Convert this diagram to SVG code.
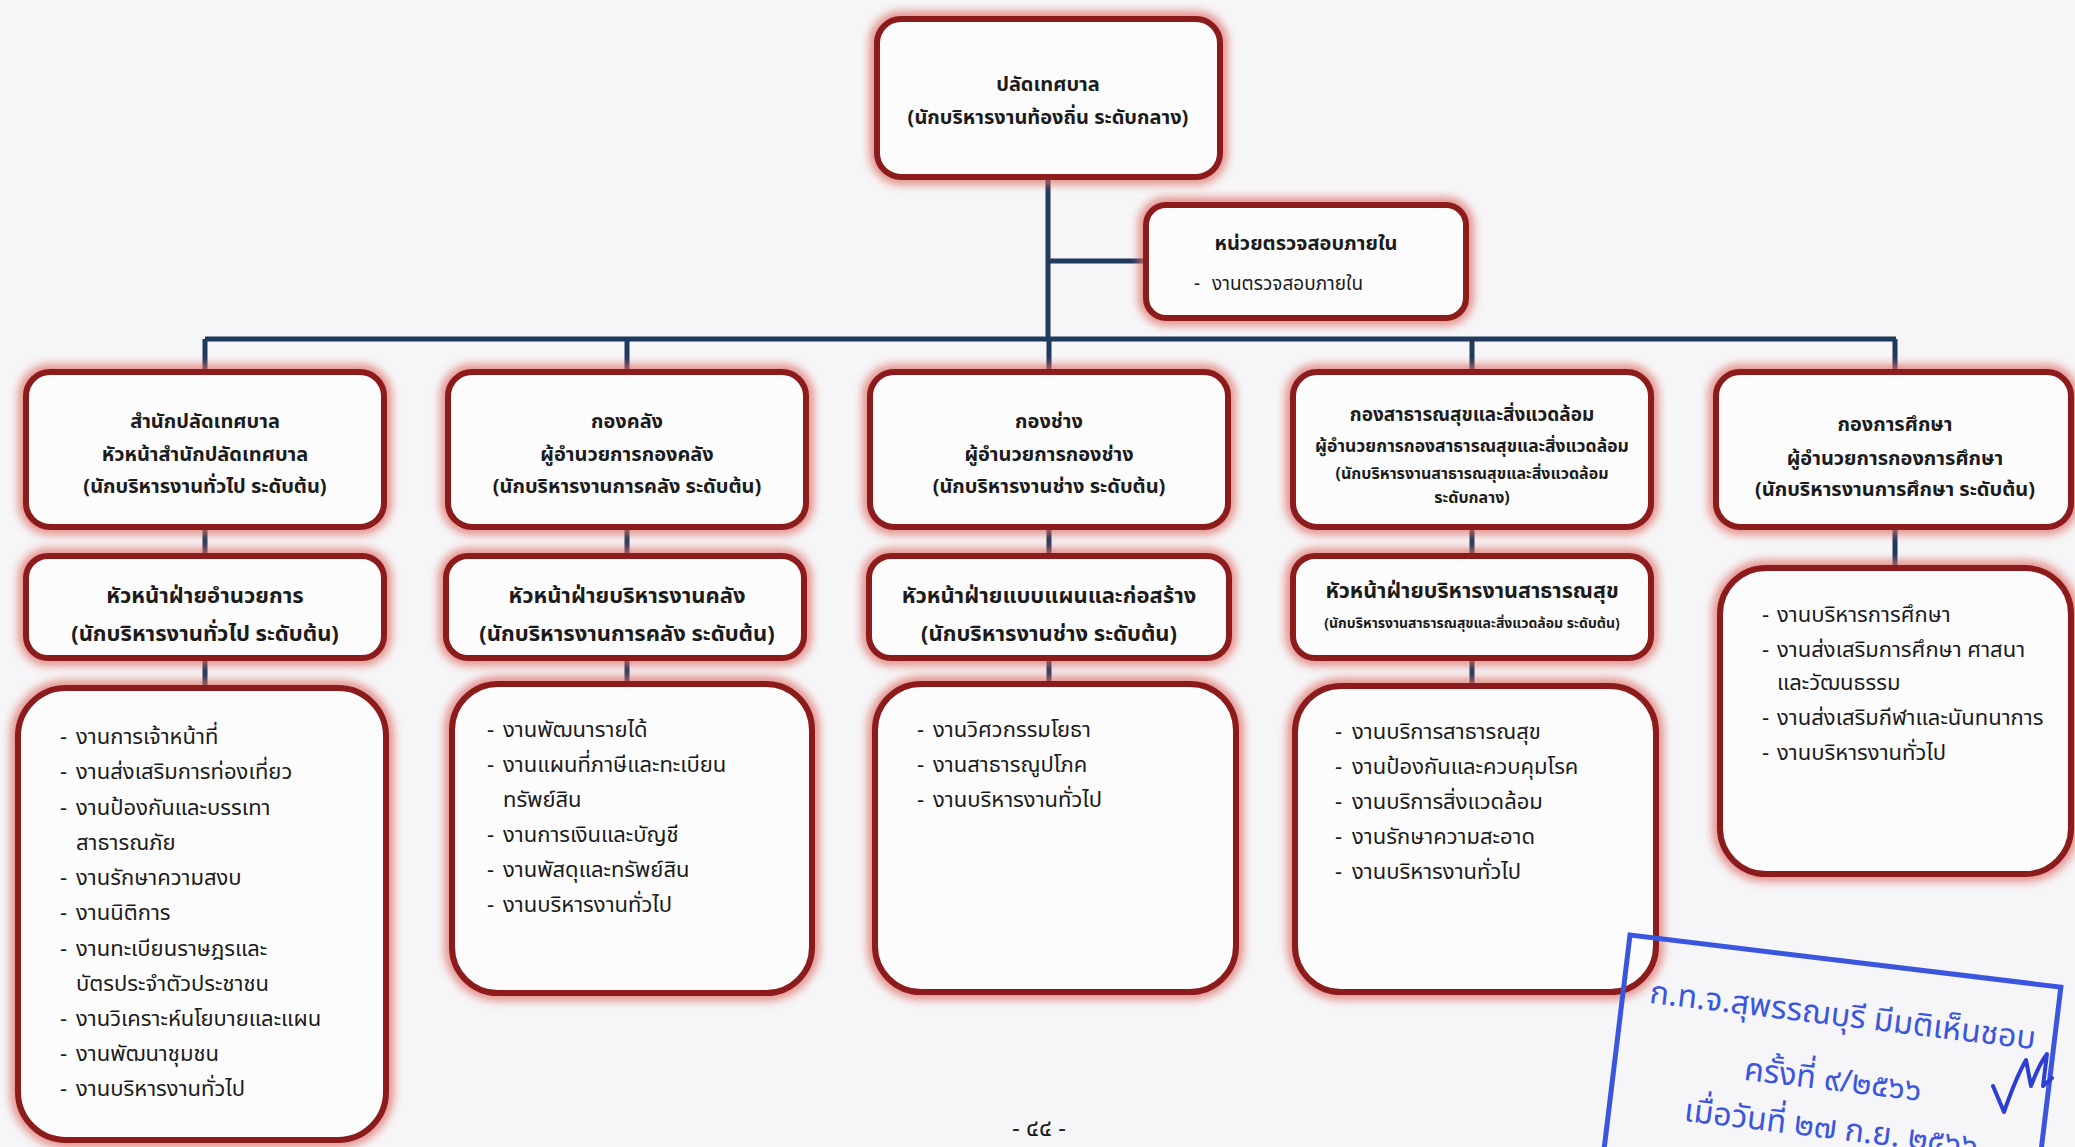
<svg xmlns="http://www.w3.org/2000/svg" width="2075" height="1147" viewBox="0 0 2075 1147">
<style>
text{font-family:"Noto Sans Thai","Noto Sans Thai UI","Tahoma","Noto Sans","DejaVu Sans",sans-serif;fill:#1b1b1b}
.h{font-weight:bold;text-anchor:middle;font-size:20px}
.h3{font-weight:bold;text-anchor:middle;font-size:22px}
.hs{font-weight:bold;text-anchor:middle;font-size:16px}
.hx{font-weight:bold;text-anchor:middle;font-size:14px}
.it{font-size:22px}
.halo{fill:none;stroke:#de6a62;stroke-width:16;opacity:0.7;filter:url(#blur)}
.box{fill:#fdfcfd;stroke:#8c1b1b;stroke-width:6}
.con{fill:none;stroke:#1e3a5c;stroke-width:5}
.st{font-family:"Noto Sans Thai","Tahoma","DejaVu Sans",sans-serif;fill:#3a55de;font-size:32px;text-anchor:middle}
</style>
<defs>
<filter id="blur" x="-10%" y="-20%" width="120%" height="140%"><feGaussianBlur stdDeviation="4"/></filter>
</defs>
<rect width="2075" height="1147" fill="#f6f5f7"/>

<g id="connectors">
<path class="con" d="M1048 177V339M1048 261H1146M205 339H1896M205 339V372M627 339V372M1049 339V372M1472 339V372M1895 339V372M205 527V556M627 527V556M1049 527V556M1472 527V556M1895 527V568M205 658V688M627 658V684M1049 658V684M1472 658V686"/>
</g>

<g id="n-top">
<rect class="halo" x="877" y="19" width="343" height="158" rx="24"/>
<rect class="box" x="877" y="19" width="343" height="158" rx="24"/>
<text class="h" x="1048" y="91">ปลัดเทศบาล</text>
<text class="h" x="1048" y="124">(นักบริหารงานท้องถิ่น ระดับกลาง)</text>
</g>

<g id="n-audit">
<rect class="halo" x="1146" y="205" width="320" height="113" rx="20"/>
<rect class="box" x="1146" y="205" width="320" height="113" rx="20"/>
<text class="h" x="1306" y="250">หน่วยตรวจสอบภายใน</text>
<text x="1194" y="290" style="font-size:19px">-</text>
<text x="1212" y="290" style="font-size:19px">งานตรวจสอบภายใน</text>
</g>

<g id="n-office">
<rect class="halo" x="26" y="372" width="358" height="155" rx="24"/>
<rect class="box" x="26" y="372" width="358" height="155" rx="24"/>
<text class="h" x="205" y="428">สำนักปลัดเทศบาล</text>
<text class="h" x="205" y="461">หัวหน้าสำนักปลัดเทศบาล</text>
<text class="h" x="205" y="493">(นักบริหารงานทั่วไป ระดับต้น)</text>
</g>

<g id="n-finance">
<rect class="halo" x="448" y="372" width="358" height="155" rx="24"/>
<rect class="box" x="448" y="372" width="358" height="155" rx="24"/>
<text class="h" x="627" y="428">กองคลัง</text>
<text class="h" x="627" y="461">ผู้อำนวยการกองคลัง</text>
<text class="h" x="627" y="493">(นักบริหารงานการคลัง ระดับต้น)</text>
</g>

<g id="n-works">
<rect class="halo" x="870" y="372" width="358" height="155" rx="24"/>
<rect class="box" x="870" y="372" width="358" height="155" rx="24"/>
<text class="h" x="1049" y="428">กองช่าง</text>
<text class="h" x="1049" y="461">ผู้อำนวยการกองช่าง</text>
<text class="h" x="1049" y="493">(นักบริหารงานช่าง ระดับต้น)</text>
</g>

<g id="n-health">
<rect class="halo" x="1293" y="372" width="358" height="155" rx="24"/>
<rect class="box" x="1293" y="372" width="358" height="155" rx="24"/>
<text class="h" x="1472" y="421" style="font-size:19px">กองสาธารณสุขและสิ่งแวดล้อม</text>
<text class="h" x="1472" y="452" style="font-size:17.5px">ผู้อำนวยการกองสาธารณสุขและสิ่งแวดล้อม</text>
<text class="hs" x="1472" y="479">(นักบริหารงานสาธารณสุขและสิ่งแวดล้อม</text>
<text class="hs" x="1472" y="503">ระดับกลาง)</text>
</g>

<g id="n-edu">
<rect class="halo" x="1716" y="372" width="355" height="155" rx="24"/>
<rect class="box" x="1716" y="372" width="355" height="155" rx="24"/>
<text class="h" x="1895" y="431">กองการศึกษา</text>
<text class="h" x="1895" y="465">ผู้อำนวยการกองการศึกษา</text>
<text class="h" x="1895" y="496">(นักบริหารงานการศึกษา ระดับต้น)</text>
</g>

<g id="n-admin-head">
<rect class="halo" x="26" y="556" width="358" height="102" rx="22"/>
<rect class="box" x="26" y="556" width="358" height="102" rx="22"/>
<text class="h3" x="205" y="603">หัวหน้าฝ่ายอำนวยการ</text>
<text class="h3" x="205" y="641">(นักบริหารงานทั่วไป ระดับต้น)</text>
</g>

<g id="n-finance-head">
<rect class="halo" x="446" y="556" width="358" height="102" rx="22"/>
<rect class="box" x="446" y="556" width="358" height="102" rx="22"/>
<text class="h3" x="627" y="603">หัวหน้าฝ่ายบริหารงานคลัง</text>
<text class="h3" x="627" y="641">(นักบริหารงานการคลัง ระดับต้น)</text>
</g>

<g id="n-works-head">
<rect class="halo" x="869" y="556" width="360" height="102" rx="22"/>
<rect class="box" x="869" y="556" width="360" height="102" rx="22"/>
<text class="h3" x="1049" y="603">หัวหน้าฝ่ายแบบแผนและก่อสร้าง</text>
<text class="h3" x="1049" y="641">(นักบริหารงานช่าง ระดับต้น)</text>
</g>

<g id="n-health-head">
<rect class="halo" x="1293" y="556" width="358" height="102" rx="22"/>
<rect class="box" x="1293" y="556" width="358" height="102" rx="22"/>
<text class="h3" x="1472" y="598" style="font-size:21.5px">หัวหน้าฝ่ายบริหารงานสาธารณสุข</text>
<text class="hx" x="1472" y="628">(นักบริหารงานสาธารณสุขและสิ่งแวดล้อม ระดับต้น)</text>
</g>

<g id="n-office-tasks">
<rect class="halo" x="18" y="688" width="368" height="452" rx="48"/>
<rect class="box" x="18" y="688" width="368" height="452" rx="48"/>
<g class="it">
<text x="60" y="744">-</text><text x="76" y="744">งานการเจ้าหน้าที่</text>
<text x="60" y="779">-</text><text x="76" y="779">งานส่งเสริมการท่องเที่ยว</text>
<text x="60" y="815">-</text><text x="76" y="815">งานป้องกันและบรรเทา</text>
<text x="76" y="850">สาธารณภัย</text>
<text x="60" y="885">-</text><text x="76" y="885">งานรักษาความสงบ</text>
<text x="60" y="920">-</text><text x="76" y="920">งานนิติการ</text>
<text x="60" y="956">-</text><text x="76" y="956">งานทะเบียนราษฎรและ</text>
<text x="76" y="991">บัตรประจำตัวประชาชน</text>
<text x="60" y="1026">-</text><text x="76" y="1026">งานวิเคราะห์นโยบายและแผน</text>
<text x="60" y="1061">-</text><text x="76" y="1061">งานพัฒนาชุมชน</text>
<text x="60" y="1096">-</text><text x="76" y="1096">งานบริหารงานทั่วไป</text>
</g>
</g>

<g id="n-finance-tasks">
<rect class="halo" x="452" y="684" width="360" height="309" rx="46"/>
<rect class="box" x="452" y="684" width="360" height="309" rx="46"/>
<g class="it">
<text x="487" y="737">-</text><text x="503" y="737">งานพัฒนารายได้</text>
<text x="487" y="772">-</text><text x="503" y="772">งานแผนที่ภาษีและทะเบียน</text>
<text x="503" y="807">ทรัพย์สิน</text>
<text x="487" y="842">-</text><text x="503" y="842">งานการเงินและบัญชี</text>
<text x="487" y="877">-</text><text x="503" y="877">งานพัสดุและทรัพย์สิน</text>
<text x="487" y="912">-</text><text x="503" y="912">งานบริหารงานทั่วไป</text>
</g>
</g>

<g id="n-works-tasks">
<rect class="halo" x="875" y="684" width="361" height="308" rx="46"/>
<rect class="box" x="875" y="684" width="361" height="308" rx="46"/>
<g class="it">
<text x="917" y="737">-</text><text x="933" y="737">งานวิศวกรรมโยธา</text>
<text x="917" y="772">-</text><text x="933" y="772">งานสาธารณูปโภค</text>
<text x="917" y="807">-</text><text x="933" y="807">งานบริหารงานทั่วไป</text>
</g>
</g>

<g id="n-health-tasks">
<rect class="halo" x="1295" y="686" width="361" height="306" rx="46"/>
<rect class="box" x="1295" y="686" width="361" height="306" rx="46"/>
<g class="it">
<text x="1335" y="739">-</text><text x="1352" y="739">งานบริการสาธารณสุข</text>
<text x="1335" y="774">-</text><text x="1352" y="774">งานป้องกันและควบคุมโรค</text>
<text x="1335" y="809">-</text><text x="1352" y="809">งานบริการสิ่งแวดล้อม</text>
<text x="1335" y="844">-</text><text x="1352" y="844">งานรักษาความสะอาด</text>
<text x="1335" y="879">-</text><text x="1352" y="879">งานบริหารงานทั่วไป</text>
</g>
</g>

<g id="n-edu-tasks">
<rect class="halo" x="1720" y="568" width="351" height="306" rx="46"/>
<rect class="box" x="1720" y="568" width="351" height="306" rx="46"/>
<g class="it">
<text x="1762" y="622">-</text><text x="1777" y="622">งานบริหารการศึกษา</text>
<text x="1762" y="657">-</text><text x="1777" y="657">งานส่งเสริมการศึกษา ศาสนา</text>
<text x="1777" y="690">และวัฒนธรรม</text>
<text x="1762" y="725">-</text><text x="1777" y="725">งานส่งเสริมกีฬาและนันทนาการ</text>
<text x="1762" y="760">-</text><text x="1777" y="760">งานบริหารงานทั่วไป</text>
</g>
</g>

<g id="stamp" transform="rotate(6.9 1630 935)">
<rect x="1630" y="935" width="434" height="280" fill="none" stroke="#3a55de" stroke-width="5"/>
<text class="st" x="1851" y="1000">ก.ท.จ.สุพรรณบุรี มีมติเห็นชอบ</text>
<text class="st" x="1849" y="1065">ครั้งที่ ๙/๒๕๖๖</text>
<text class="st" x="1853" y="1113">เมื่อวันที่ ๒๗ ก.ย. ๒๕๖๖</text>
</g>
<path d="M1993 1086L2004 1112C2011 1092 2019 1072 2026 1060L2031 1086C2037 1070 2042 1060 2047 1054L2043 1086L2052 1078" fill="none" stroke="#2c3fd0" stroke-width="4" stroke-linecap="round" stroke-linejoin="round"/>

<text x="1039" y="1136" text-anchor="middle" style="font-size:24px">- ๔๔ -</text>
</svg>
